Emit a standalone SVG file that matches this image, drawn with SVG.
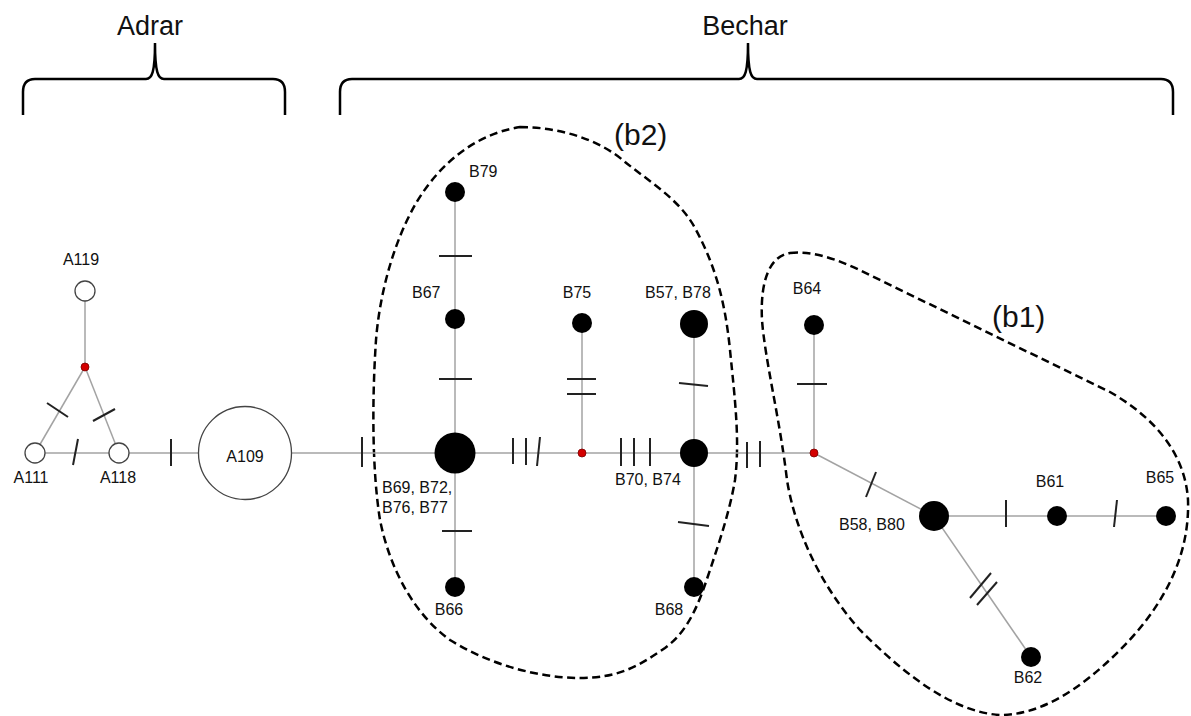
<svg xmlns="http://www.w3.org/2000/svg" width="1191" height="716" viewBox="0 0 1191 716">
<style>
.edge{stroke:#a3a3a3;stroke-width:1.5;fill:none}
.tick{stroke:#222;stroke-width:2;fill:none}
.open{fill:#fff;stroke:#444;stroke-width:1.3}
.fill{fill:#000}
.med{fill:#d40000;stroke:#7a0000;stroke-width:0.8}
.lbl{font-family:"Liberation Sans",Arial,sans-serif;font-size:16px;fill:#111}
.hdr{font-family:"Liberation Sans",Arial,sans-serif;font-size:27px;fill:#111;text-anchor:middle}
.grp{font-family:"Liberation Sans",Arial,sans-serif;font-size:30px;fill:#111}
.brace{stroke:#000;stroke-width:2.5;fill:none}
.hull{stroke:#000;stroke-width:2.5;fill:none;stroke-dasharray:8 4.5}
</style>
<rect width="1191" height="716" fill="#fff"/>
<g id="headers">
<text class="hdr" x="150" y="35">Adrar</text>
<path class="brace" d="M23,115 L23,92 C23,83 27,79 35,79 L146,79 C152,79 155,72 155,43 C155,72 158,79 164,79 L273,79 C281,79 285,83 285,92 L285,115"/>
<text class="hdr" x="745" y="35">Bechar</text>
<path class="brace" d="M340,115 L340,92 C340,83 344,79 352,79 L739,79 C745,79 748,72 748,43 C748,72 751,79 757,79 L1161,79 C1169,79 1173,83 1173,92 L1173,115"/>
</g>
<g id="hulls">
<path id="hull-b2" class="hull" d="M520,127 C560,127 600,140 625,162 C650,182 680,200 695,228 C715,265 725,300 730,350 C735,400 740,440 735,480 C730,510 720,540 710,570 C700,600 690,630 665,648 C640,665 620,678 580,678 C540,678 490,665 450,640 C415,615 390,570 380,520 C372,470 372,400 376,340 C380,290 395,240 415,205 C435,170 470,135 520,127 Z"/>
<text class="grp" x="614" y="145">(b2)</text>
<path id="hull-b1" class="hull" d="M790,253 C820,250 850,265 880,280 L1110,392 C1150,415 1185,450 1188,500 C1190,560 1160,610 1120,650 C1080,690 1040,715 1000,715 C950,712 900,670 860,630 C820,585 795,530 787,480 C780,420 765,360 762,320 C760,280 770,256 790,253 Z"/>
<text class="grp" x="992" y="327">(b1)</text>
</g>
<g id="connectors">
<line class="edge" x1="85" y1="291" x2="85" y2="367"/>
<line class="edge" x1="85" y1="367" x2="35" y2="453"/>
<line class="edge" x1="85" y1="367" x2="119" y2="453"/>
<line class="edge" x1="35" y1="453" x2="119" y2="453"/>
<line class="edge" x1="119" y1="453" x2="455" y2="453"/>
<line class="edge" x1="455" y1="192" x2="455" y2="587"/>
<line class="edge" x1="455" y1="453" x2="814" y2="453"/>
<line class="edge" x1="582" y1="323" x2="582" y2="453"/>
<line class="edge" x1="694" y1="324" x2="694" y2="587"/>
<line class="edge" x1="814" y1="325" x2="814" y2="453"/>
<line class="edge" x1="814" y1="453" x2="934" y2="516"/>
<line class="edge" x1="934" y1="516" x2="1166" y2="516"/>
<line class="edge" x1="934" y1="516" x2="1031" y2="657"/>
<g id="ticks">
<line class="tick" x1="47" y1="403" x2="68" y2="417"/>
<line class="tick" x1="93" y1="421" x2="115" y2="409"/>
<line class="tick" x1="73" y1="465" x2="78" y2="439"/>
<line class="tick" x1="171" y1="439" x2="171" y2="466"/>
<line class="tick" x1="362" y1="437" x2="362" y2="467"/>
<line class="tick" x1="439" y1="256" x2="472" y2="256"/>
<line class="tick" x1="439" y1="379" x2="472" y2="379"/>
<line class="tick" x1="442" y1="531" x2="472" y2="531"/>
<line class="tick" x1="513" y1="438" x2="513" y2="464"/>
<line class="tick" x1="526" y1="438" x2="526" y2="465"/>
<line class="tick" x1="540" y1="437" x2="537" y2="466"/>
<line class="tick" x1="567" y1="379" x2="596" y2="379"/>
<line class="tick" x1="567" y1="394" x2="596" y2="394"/>
<line class="tick" x1="621" y1="438" x2="621" y2="466"/>
<line class="tick" x1="634" y1="438" x2="634" y2="466"/>
<line class="tick" x1="650" y1="438" x2="650" y2="466"/>
<line class="tick" x1="679" y1="383" x2="708" y2="386"/>
<line class="tick" x1="678" y1="522" x2="709" y2="526"/>
<line class="tick" x1="747" y1="442" x2="747" y2="468"/>
<line class="tick" x1="760" y1="441" x2="760" y2="467"/>
<line class="tick" x1="797" y1="384" x2="827" y2="384"/>
<line class="tick" x1="876" y1="472" x2="866" y2="497"/>
<line class="tick" x1="1006" y1="500" x2="1006" y2="527"/>
<line class="tick" x1="1117" y1="500" x2="1114" y2="527"/>
<line class="tick" x1="970" y1="598" x2="991" y2="573"/>
<line class="tick" x1="977" y1="605" x2="997" y2="582"/>
</g>
</g>
<g id="A119"><circle class="open" cx="85" cy="291" r="10"/><text class="lbl" x="81" y="265" text-anchor="middle">A119</text></g>
<g id="mv-adrar"><circle class="med" cx="85" cy="367" r="4"/></g>
<g id="A111"><circle class="open" cx="35" cy="453" r="10"/><text class="lbl" x="31" y="483" text-anchor="middle">A111</text></g>
<g id="A118"><circle class="open" cx="119" cy="453" r="10"/><text class="lbl" x="118" y="483" text-anchor="middle">A118</text></g>
<g id="A109"><circle class="open" cx="245" cy="453" r="46.5"/><text class="lbl" x="245" y="462" text-anchor="middle">A109</text></g>
<g id="B69"><circle class="fill" cx="455" cy="453" r="20.5"/><text class="lbl" x="382" y="493">B69, B72,</text><text class="lbl" x="382" y="513">B76, B77</text></g>
<g id="B79"><circle class="fill" cx="455" cy="192" r="10"/><text class="lbl" x="469" y="177">B79</text></g>
<g id="B67"><circle class="fill" cx="455" cy="319" r="10"/><text class="lbl" x="412" y="298">B67</text></g>
<g id="B66"><circle class="fill" cx="455" cy="587" r="10"/><text class="lbl" x="449" y="615" text-anchor="middle">B66</text></g>
<g id="mv-b2"><circle class="med" cx="582" cy="453" r="4"/></g>
<g id="B75"><circle class="fill" cx="582" cy="323" r="10"/><text class="lbl" x="577" y="298" text-anchor="middle">B75</text></g>
<g id="B70"><circle class="fill" cx="694" cy="453" r="14"/><text class="lbl" x="615" y="485">B70, B74</text></g>
<g id="B57"><circle class="fill" cx="694" cy="324" r="14"/><text class="lbl" x="645" y="298">B57, B78</text></g>
<g id="B68"><circle class="fill" cx="694" cy="587" r="10"/><text class="lbl" x="669" y="615" text-anchor="middle">B68</text></g>
<g id="mv-b1"><circle class="med" cx="814" cy="453" r="4"/></g>
<g id="B64"><circle class="fill" cx="814" cy="325" r="10"/><text class="lbl" x="807" y="294" text-anchor="middle">B64</text></g>
<g id="B58"><circle class="fill" cx="934" cy="516" r="15"/><text class="lbl" x="839" y="530">B58, B80</text></g>
<g id="B61"><circle class="fill" cx="1057" cy="516" r="10"/><text class="lbl" x="1050" y="487" text-anchor="middle">B61</text></g>
<g id="B65"><circle class="fill" cx="1166" cy="516" r="10"/><text class="lbl" x="1160" y="483" text-anchor="middle">B65</text></g>
<g id="B62"><circle class="fill" cx="1031" cy="657" r="10"/><text class="lbl" x="1028" y="683" text-anchor="middle">B62</text></g>
</svg>
